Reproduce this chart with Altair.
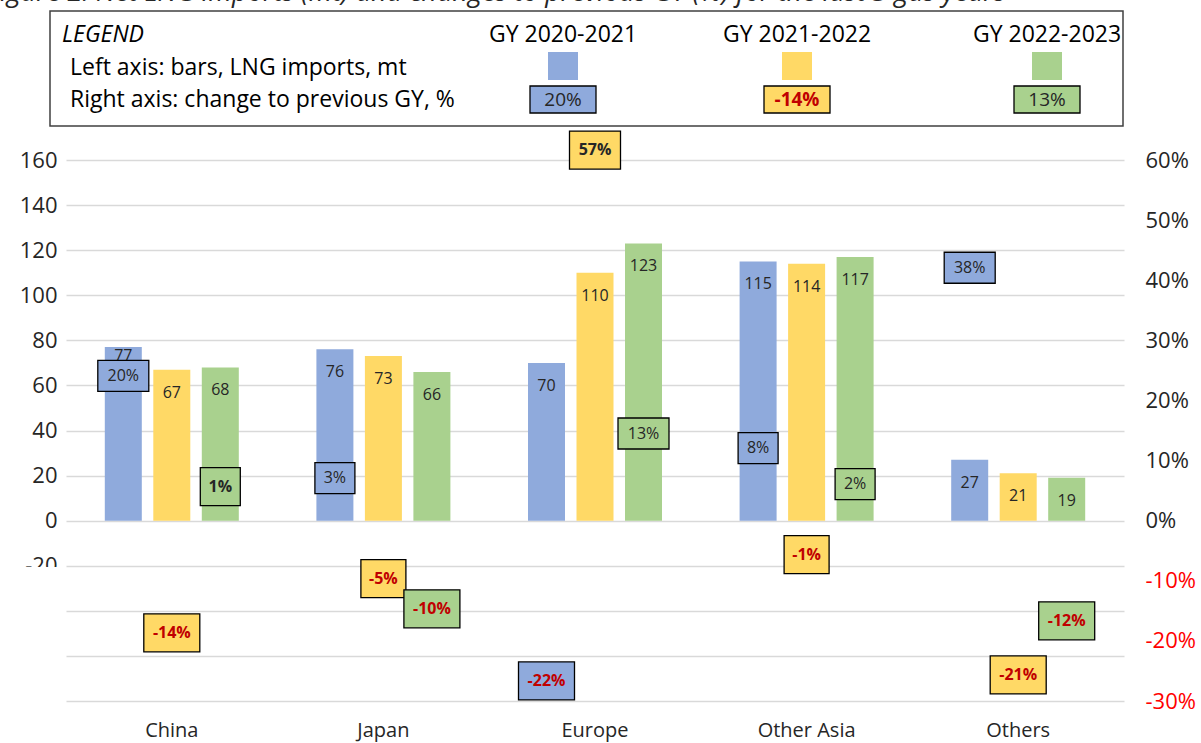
import altair as alt
import pandas as pd

# ---------------- data ----------------
categories = ["China", "Japan", "Europe", "Other Asia", "Others"]
series_names = ["GY 2020-2021", "GY 2021-2022", "GY 2022-2023"]
imports_gy2021 = [77, 76, 70, 115, 27]
imports_gy2122 = [67, 73, 110, 114, 21]
imports_gy2223 = [68, 66, 123, 117, 19]
change_gy2021 = [20, 3, -22, 8, 38]
change_gy2122 = [-14, -5, 57, -1, -21]
change_gy2223 = [1, -10, 13, 2, -12]
left_axis_ticks = [-80, -60, -40, -20, 0, 20, 40, 60, 80, 100, 120, 140, 160]
right_axis_ticks = [-30, -20, -10, 0, 10, 20, 30, 40, 50, 60]
legend_sample_labels = ["20%", "-14%", "13%"]
legend_lines = ["LEGEND", "Left axis: bars, LNG imports, mt",
                "Right axis: change to previous GY, %"]
title_text = ("Figure 2: Net LNG imports (mt) and changes to previous GY (%) "
              "for the last 3 gas years")

# ---------------- style / layout ----------------
COLORS = ["#8FAADC", "#FFD966", "#A9D18E"]
FONT = "Open Sans"
TEXT = "#262626"
RED_LABEL = "#C00000"
RED_AXIS = "#FF0000"
GRID = "#D9D9D9"

PAD_L, PAD_T, PAD_R, PAD_B = 66, 160, 77, 42
W = 1201 - PAD_L - PAD_R
H = 743 - PAD_T - PAD_B
LEFT_DOMAIN = [-80, 160]
RIGHT_DOMAIN = [-30, 60]
px_left = H / (LEFT_DOMAIN[1] - LEFT_DOMAIN[0])
px_right = H / (RIGHT_DOMAIN[1] - RIGHT_DOMAIN[0])

BAR_LABEL_DY = 23                        # px below bar top
bar_label_dy_override = {("China", "GY 2020-2021"): 9}
box_offset_override = {("Europe", "GY 2022-2023"): -9}

imports = [imports_gy2021, imports_gy2122, imports_gy2223]
changes = [change_gy2021, change_gy2122, change_gy2223]

rows = []
for s, name in enumerate(series_names):
    for c, cat in enumerate(categories):
        v = imports[s][c]
        p = changes[s][c]
        label = f"{p}%"
        bold = bool(p < 0 or label in ("1%", "57%"))
        h = 38 if bold else 31
        w = 29 + 11 * len(str(abs(p))) + (5 if p < 0 else 0)
        off = -(h / 2 + 9) if p >= 0 else (h / 2 + 9)
        off = box_offset_override.get((cat, name), off)
        dy = bar_label_dy_override.get((cat, name), BAR_LABEL_DY)
        r = h / w
        rows.append(dict(
            category=cat, series=name, imports=v, change=p, label=label, bold=bold,
            bar_label_y=v - dy / px_left,
            pct_y=p - off / px_right,
            box_path=f"M-1,{-r:.4f}L1,{-r:.4f}L1,{r:.4f}L-1,{r:.4f}Z",
            box_size=w * w,
        ))
df = pd.DataFrame(rows)

# ---------------- encodings ----------------
x_enc = alt.X("category:N", sort=categories,
              scale=alt.Scale(domain=categories, paddingInner=0, paddingOuter=0),
              axis=alt.Axis(title=None, labelFont=FONT, labelFontSize=20, labelColor=TEXT,
                            labelAngle=0, labelPadding=19, domain=False, ticks=False,
                            grid=False))
xo_enc = alt.XOffset("series:N", sort=series_names,
                     scale=alt.Scale(domain=series_names, paddingInner=0.237, paddingOuter=0.8))
color_enc = alt.Color("series:N", scale=alt.Scale(domain=series_names, range=COLORS),
                      legend=None)

y_left_scale = alt.Scale(domain=LEFT_DOMAIN, nice=False, zero=False)
y_left_axis = alt.Axis(title=None, orient="left", values=left_axis_ticks, grid=True,
                       gridColor=GRID, gridWidth=1.5, domain=False, ticks=False,
                       labelFont=FONT, labelFontSize=22, labelColor=TEXT, labelPadding=9,
                       labelExpr="datum.value >= -20 ? toString(datum.value) : ''")
y_right_scale = alt.Scale(domain=RIGHT_DOMAIN, nice=False, zero=False)
y_right_axis = alt.Axis(title=None, orient="right", values=right_axis_ticks, grid=False,
                        domain=False, ticks=False, labelFont=FONT, labelFontSize=22,
                        labelPadding=21, labelAlign="left",
                        labelExpr="toString(datum.value) + '%'",
                        labelColor={"condition": {"test": "datum.value < 0", "value": RED_AXIS},
                                    "value": TEXT})

bars = alt.Chart(df).mark_bar().encode(
    x=x_enc, xOffset=xo_enc,
    y=alt.Y("imports:Q", scale=y_left_scale, axis=y_left_axis),
    y2=alt.datum(0),
    color=color_enc,
)
bar_labels = alt.Chart(df).mark_text(font=FONT, fontSize=16, color=TEXT,
                                     baseline="middle").encode(
    x=x_enc, xOffset=xo_enc,
    y=alt.Y("bar_label_y:Q", scale=y_left_scale, axis=None),
    text=alt.Text("imports:Q"),
)
boxes = alt.Chart(df).mark_point(filled=True, opacity=1, stroke="#000000",
                                 strokeWidth=1.3).encode(
    x=x_enc, xOffset=xo_enc,
    y=alt.Y("pct_y:Q", scale=y_right_scale, axis=y_right_axis),
    shape=alt.Shape("box_path:N", scale=None),
    size=alt.Size("box_size:Q", scale=None),
    color=color_enc,
)
box_text_regular = alt.Chart(df).transform_filter("!datum.bold").mark_text(
    font=FONT, fontSize=16, color=TEXT, baseline="middle").encode(
    x=x_enc, xOffset=xo_enc,
    y=alt.Y("pct_y:Q", scale=y_right_scale, axis=None),
    text="label:N",
)
box_text_bold = alt.Chart(df).transform_filter("datum.bold").mark_text(
    font=FONT, fontSize=16, fontWeight="bold", baseline="middle").encode(
    x=x_enc, xOffset=xo_enc,
    y=alt.Y("pct_y:Q", scale=y_right_scale, axis=None),
    text="label:N",
    color=alt.condition("datum.change < 0", alt.value(RED_LABEL), alt.value(TEXT)),
)


# ---------------- decorations (title, legend) ----------------
def vtext(txt, x, y, **kw):
    return alt.Chart(pd.DataFrame({"t": [txt]})).mark_text(**kw).encode(
        text="t:N", x=alt.value(x), y=alt.value(y))


def vrect(x, x2, y, y2, **kw):
    return alt.Chart(pd.DataFrame({"a": [0]})).mark_rect(**kw).encode(
        x=alt.value(x), x2=alt.value(x2), y=alt.value(y), y2=alt.value(y2))


deco = [
    vtext(title_text, -79, -159, align="left", baseline="alphabetic", fontStyle="italic",
          fontSize=27, font=FONT, color=TEXT),
    vrect(-16, 1057, -149, -34, fill="white", stroke="#404040", strokeWidth=1.5),
    vtext(legend_lines[0], -4, -125, align="left", baseline="middle", fontStyle="italic",
          fontSize=23, font=FONT, color="#000000"),
    vtext(legend_lines[1], 4, -92, align="left", baseline="middle", fontSize=23, font=FONT,
          color="#000000"),
    vtext(legend_lines[2], 4, -60, align="left", baseline="middle", fontSize=23, font=FONT,
          color="#000000"),
    # cover lower part of the "-20" label, as in the original
    vrect(-66, -4, 407, 432, fill="white", strokeWidth=0),
]
LEG_X = [497, 731, 981]
for i, name in enumerate(series_names):
    cx = LEG_X[i]
    lab = legend_sample_labels[i]
    neg = lab.startswith("-")
    deco += [
        vtext(name, cx, -125, align="center", baseline="middle", fontSize=23, font=FONT,
              color="#000000"),
        vrect(cx - 15, cx + 15, -108, -80, fill=COLORS[i], strokeWidth=0),
        vrect(cx - 33, cx + 33, -74, -47, fill=COLORS[i], stroke="#000000", strokeWidth=1.3),
        vtext(lab, cx, -60.5, align="center", baseline="middle", fontSize=19, font=FONT,
              fontWeight="bold" if neg else "normal", color=RED_LABEL if neg else TEXT),
    ]

chart = alt.layer(
    bars, bar_labels, boxes, box_text_regular, box_text_bold, *deco
).resolve_scale(
    y="independent"
).properties(
    width=W, height=H,
    padding={"left": PAD_L, "top": PAD_T, "right": PAD_R, "bottom": PAD_B},
    autosize=alt.AutoSizeParams(type="none"),
).configure(font=FONT).configure_view(stroke=None)

chart.save("out.html", embed_options={"renderer": "svg", "actions": False})
